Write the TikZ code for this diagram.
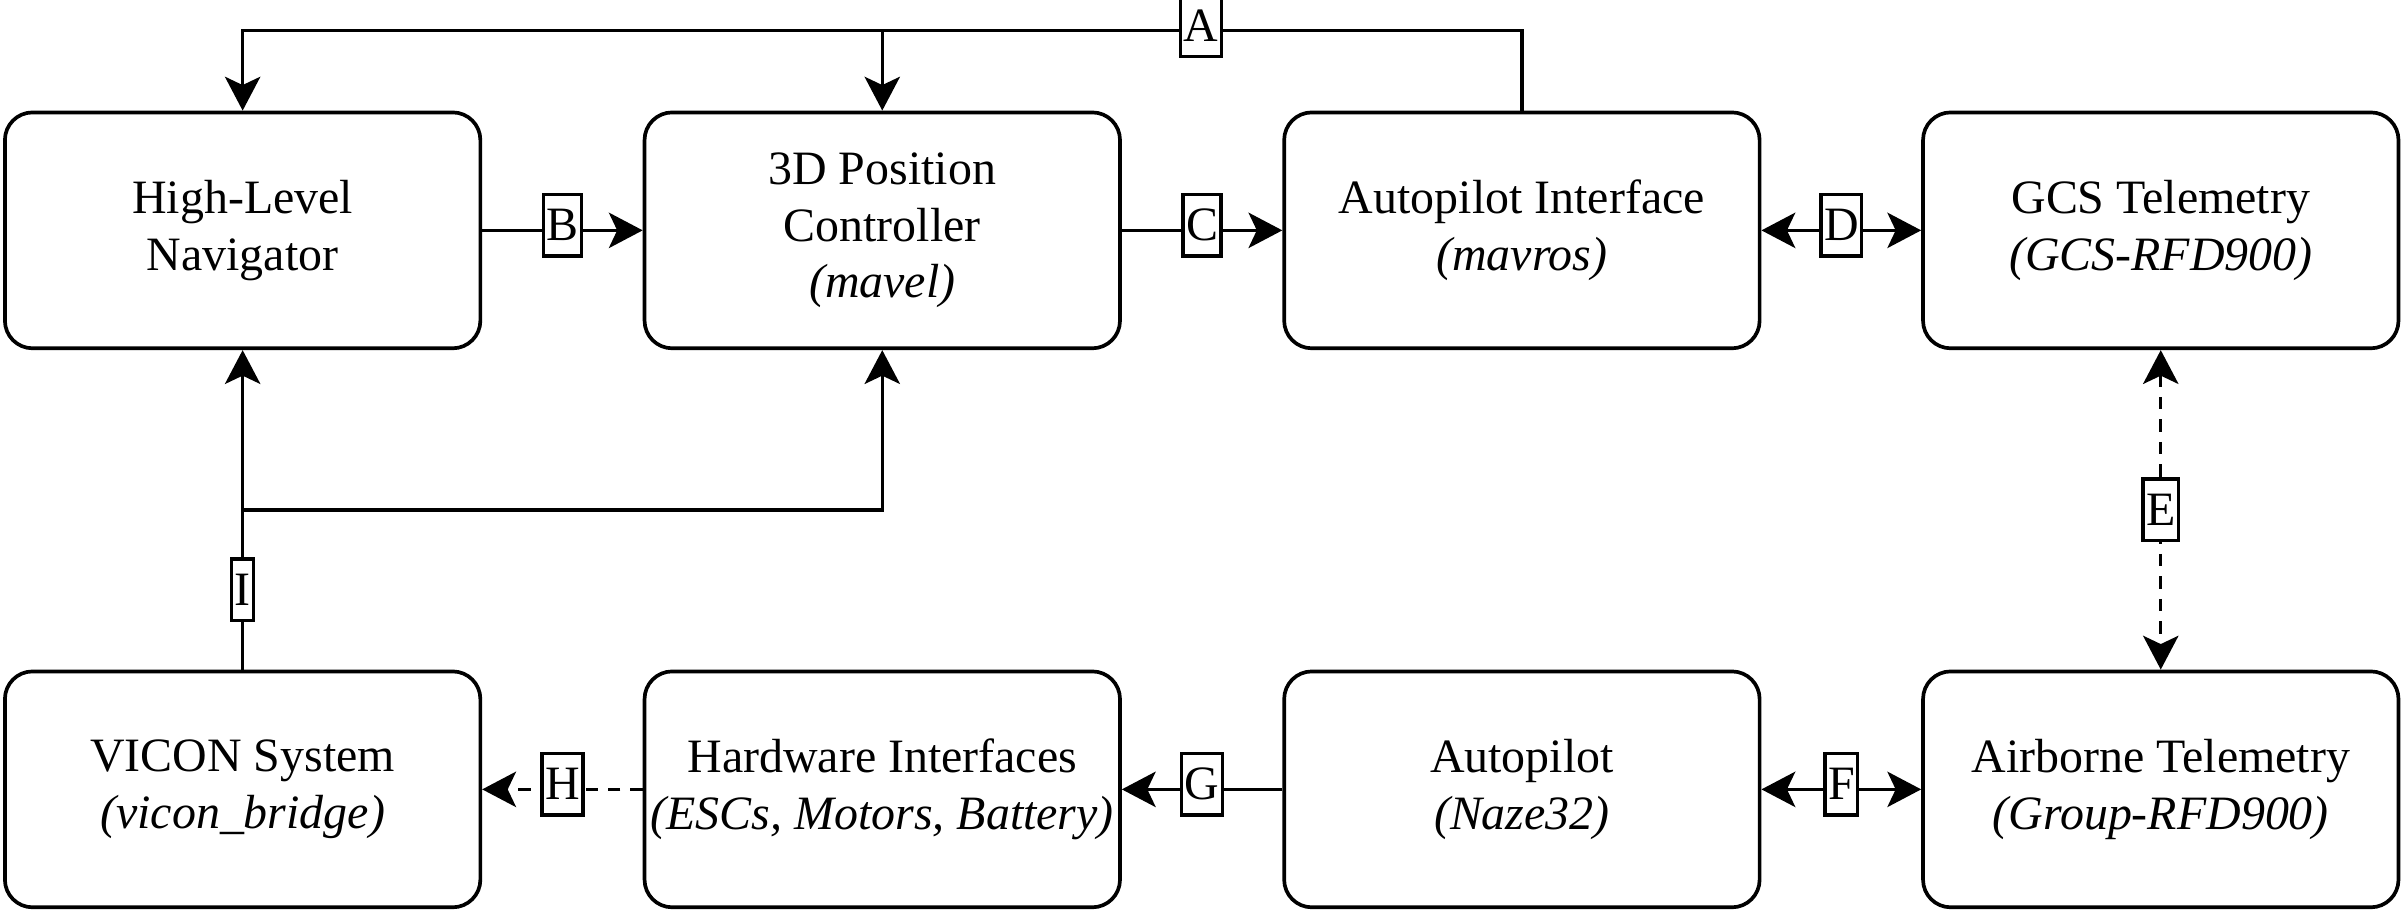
\documentclass[tikz,border=0pt]{standalone}
\usepackage{fontspec}
\setmainfont{Liberation Serif}
\usetikzlibrary{arrows.meta}
\begin{document}
\begin{tikzpicture}[x=0.5pt,y=-0.5pt,
  box/.style={draw, line width=1.2pt, rounded corners=9pt, minimum width=154.8pt,
    minimum height=76.8pt, align=center, inner sep=0pt,
    font=\fontsize{15.6}{18.5}\selectfont},
  conn/.style={line width=1.1pt},
  arr/.style={conn, -{Stealth[length=11pt,width=11.5pt,inset=2.7pt]}},
  darr/.style={conn, {Stealth[length=11pt,width=11.5pt,inset=2.7pt]}-{Stealth[length=11pt,width=11.5pt,inset=2.7pt]}},
  lab/.style={draw, solid, fill=white, line width=1.1pt, inner xsep=1pt, inner ysep=0pt,
    minimum height=20pt, font=\fontsize{15.6}{18}\selectfont},
  dsh/.style={dash pattern=on 4pt off 3.3pt}
]
\useasboundingbox (0,0) rectangle (1568,594);

\node[box] (hl)  at (158,150)   {High-Level\\Navigator};
\node[box] (pc)  at (574.5,150) {3D Position\\Controller\\\textit{(mavel)}};
\node[box] (ai)  at (991,150)   {Autopilot Interface\\\textit{(mavros)}};
\node[box] (gcs) at (1407,150)  {GCS Telemetry\\\textit{(GCS-RFD900)}};
\node[box] (vic) at (158,514)   {VICON System\\\textit{(vicon\_bridge)}};
\node[box] (hw)  at (574.5,514) {Hardware Interfaces\\\textit{(ESCs, Motors, Battery)}};
\node[box] (ap)  at (991,514)   {Autopilot\\\textit{(Naze32)}};
\node[box] (at)  at (1407,514)  {Airborne Telemetry\\\textit{(Group-RFD900)}};

\coordinate (Atop) at (0,20);
\coordinate (Ijoin) at (158,332);

% A
\draw[arr] (ai.north) -- (ai.north |- Atop) -- (hl.north |- Atop) -- (hl.north);
\draw[arr] (pc.north |- Atop) -- (pc.north);
\node[lab, yshift=1.7pt] (la) at (782,20) {A};

% B, C, D
\draw[arr] (hl.east) -- node[lab, yshift=1.7pt] (lb) {B} (pc.west);
\draw[arr] (pc.east) -- node[lab, yshift=1.7pt] (lc) {C} (ai.west);
\draw[darr] (ai.east) -- node[lab, yshift=1.7pt] (ld) {D} (gcs.west);

% E
\draw[darr, dsh] (gcs.south) -- node[lab] (le) {E} (at.north);

% F, G, H
\draw[darr] (ap.east) -- node[lab, yshift=1.7pt] (lf) {F} (at.west);
\draw[arr] (ap.west) -- node[lab, yshift=1.7pt] (lg) {G} (hw.east);
\draw[arr, dsh] (hw.west) -- node[lab, yshift=1.7pt] (lh) {H} (vic.east);

% I
\draw[conn] (vic.north) -- node[lab] (li) {I} (Ijoin);
\draw[arr] (Ijoin) -- (hl.south);
\draw[arr] (Ijoin) -| (pc.south);
\end{tikzpicture}
\end{document}
